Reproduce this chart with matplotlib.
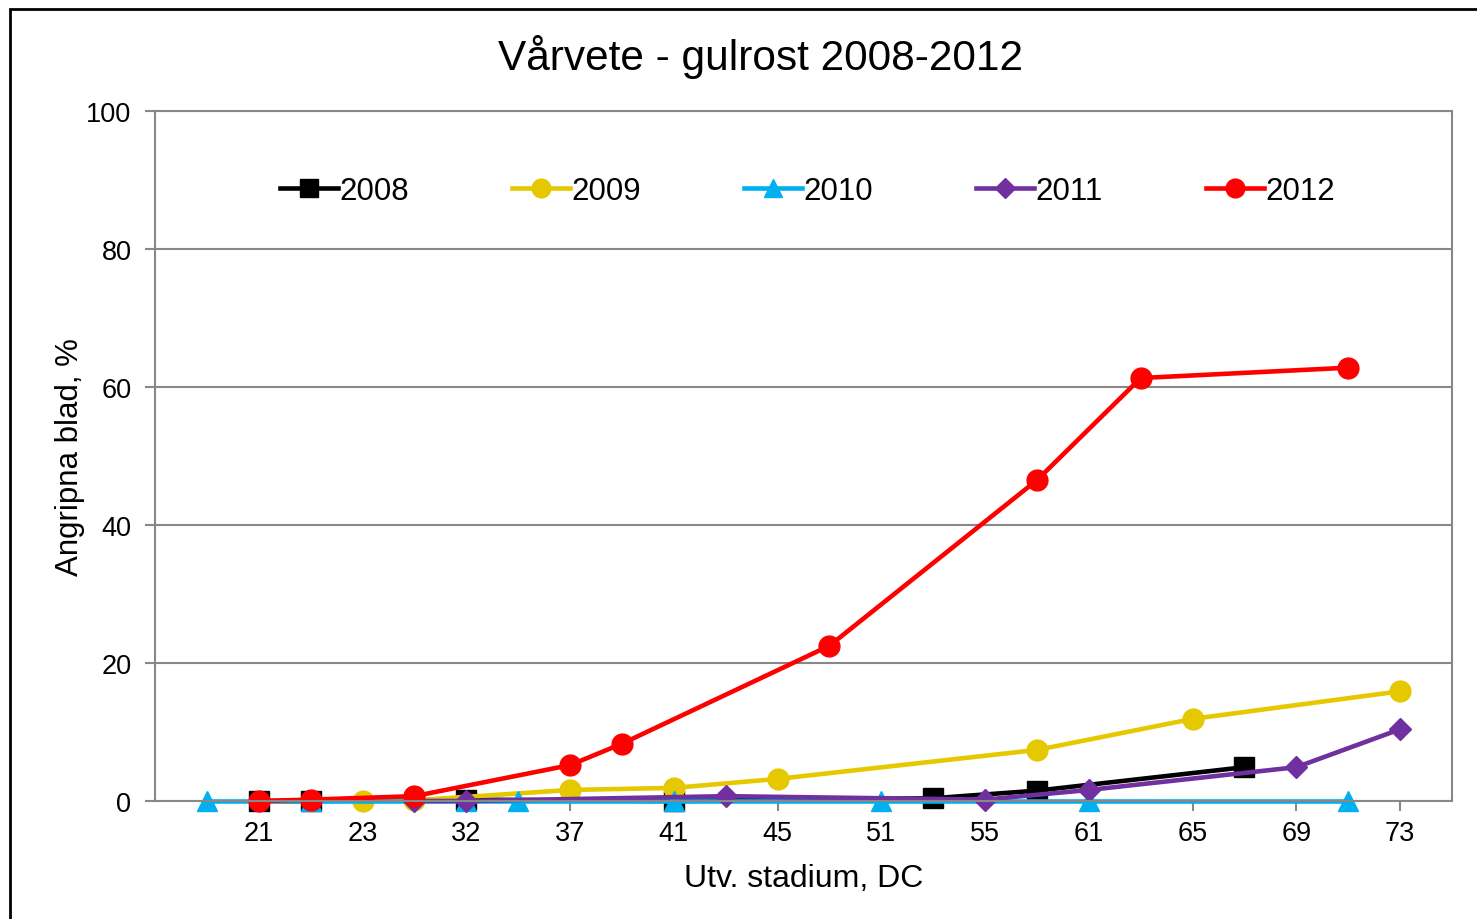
import numpy as np
import matplotlib.pyplot as plt
from matplotlib.patches import Rectangle

plt.rcParams['font.family'] = ['Liberation Sans', 'DejaVu Sans']

nan = np.nan
# 24 categories (DC stages), every other one labelled
tick_labels = ['21', '23', '32', '37', '41', '45', '51', '55', '61', '65', '69', '73']
n_cat = 24

y2008 = [nan, 0, 0, nan, nan, 0.2, nan, nan, nan, 0, nan, nan,
         nan, nan, 0.4, nan, 1.5, nan, nan, nan, 4.9, nan, nan, nan]
y2009 = [nan, nan, nan, 0, 0.1, nan, nan, 1.6, nan, 1.9, nan, 3.2,
         nan, nan, nan, nan, 7.4, nan, nan, 11.9, nan, nan, nan, 15.9]
y2010 = [0, nan, 0, nan, nan, 0, 0, nan, nan, 0, nan, nan,
         nan, 0, nan, nan, nan, 0, nan, nan, nan, nan, 0, nan]
y2011 = [nan, nan, nan, nan, 0, 0, nan, nan, nan, nan, 0.7, nan,
         nan, nan, nan, 0.2, nan, 1.6, nan, nan, nan, 4.9, nan, 10.4]
y2012 = [nan, 0, 0.2, nan, 0.7, nan, nan, 5.2, 8.3, nan, nan, nan,
         22.5, nan, nan, nan, 46.5, nan, 61.3, nan, nan, nan, 62.8, nan]

series = [
    ('2008', y2008, 'black', 's', 14),
    ('2009', y2009, '#E5C800', 'o', 15),
    ('2010', y2010, '#00B0F0', '^', 14),
    ('2011', y2011, '#7030A0', 'D', 11),
    ('2012', y2012, '#FF0000', 'o', 15),
]

fig = plt.figure(figsize=(14.77, 9.2), dpi=100)
ax = fig.add_axes([155 / 1477, 1 - 802 / 920, (1452 - 155) / 1477, (802 - 112) / 920])

x = np.arange(n_cat)
for name, vals, col, mk, ms in series:
    v = np.array(vals, dtype=float)
    m = ~np.isnan(v)
    ax.plot(x[m], v[m], color=col, lw=3.3, marker=mk, markersize=ms,
            markeredgecolor=col, label=name, clip_on=False)

ax.set_xlim(-1, 24)
ax.set_ylim(0, 100)
ax.set_yticks(np.arange(0, 101, 20))
ax.set_xticks(np.arange(1, n_cat, 2))
ax.set_xticklabels(tick_labels)
ax.tick_params(axis='both', labelsize=19.5, color='#888888', length=7, width=1.5, direction='out')
ax.tick_params(axis='x', pad=7)
ax.tick_params(axis='y', pad=10)
ax.yaxis.grid(True, color='#888888', lw=1.5)
ax.set_axisbelow(True)
for s in ax.spines.values():
    s.set_color('#888888')
    s.set_linewidth(1.5)

ax.set_xlabel('Utv. stadium, DC', fontsize=23, labelpad=12)
ax.set_ylabel('Angripna blad, %', fontsize=22.5, labelpad=1)
fig.text(760 / 1477, 1 - 57 / 920, 'Vårvete - gulrost 2008-2012', fontsize=30.5,
         ha='center', va='center')

ax.legend(loc='center', bbox_to_anchor=(0.503, 0.884), ncol=5, frameon=False,
          fontsize=22.5, handlelength=1.85, handletextpad=0.05, columnspacing=3.3,
          markerscale=0.9)

fig.add_artist(Rectangle((10 / 1477, -0.1), 1.2, 1.1 - 10 / 920, transform=fig.transFigure,
                         fill=False, edgecolor='black', lw=2))

fig.savefig('out.png', dpi=100)
